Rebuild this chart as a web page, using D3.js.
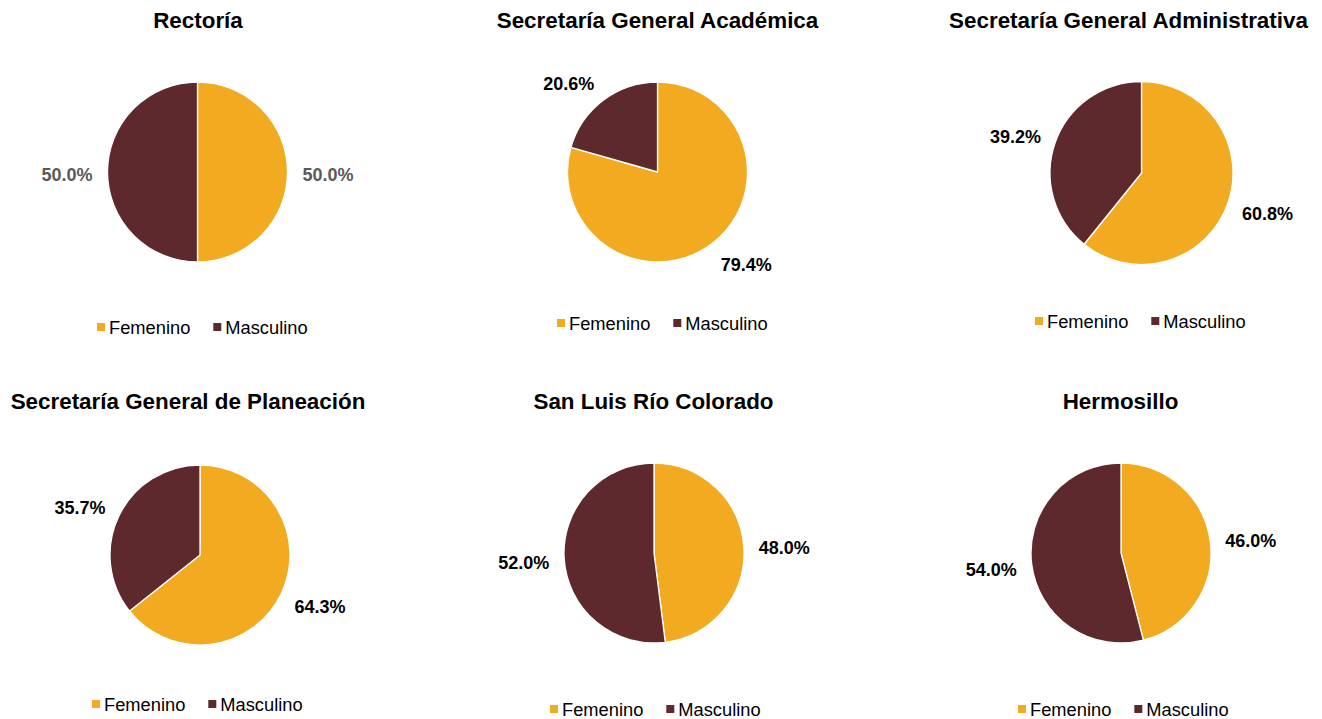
<!DOCTYPE html>
<html lang="es">
<head>
<meta charset="utf-8">
<title>Distribución por sexo</title>
<script src="https://cdn.jsdelivr.net/npm/d3@7"></script>
<style>
  html, body { margin: 0; padding: 0; background: #ffffff; }
  svg { display: block; font-family: "Liberation Sans", Arial, Helvetica, sans-serif; }
</style>
</head>
<body>
<svg id="chart" width="1322" height="719"></svg>
<script>
// Dependencias y porcentajes por sexo
const dependencias = [
  "Rectoría",
  "Secretaría General Académica",
  "Secretaría General Administrativa",
  "Secretaría General de Planeación",
  "San Luis Río Colorado",
  "Hermosillo"
];
const series = ["Femenino", "Masculino"];
const femenino  = [50.0, 79.4, 60.8, 64.3, 48.0, 46.0];
const masculino = [50.0, 20.6, 39.2, 35.7, 52.0, 54.0];

// Colocación de cada gráfico en la cuadrícula de 3 x 2
const paneles = [
  { cx: 197.5,  cy: 172, r: 90,   tx: 198,    ty: 20,  lx: 97,   ly: 327, labelColor: "#595959" },
  { cx: 657.5,  cy: 172, r: 90,   tx: 657.5,  ty: 20,  lx: 557,  ly: 323, labelColor: "#000000" },
  { cx: 1141.5, cy: 173, r: 91.5, tx: 1128.5, ty: 20,  lx: 1035, ly: 321, labelColor: "#000000" },
  { cx: 200,    cy: 555, r: 90,   tx: 188,    ty: 401, lx: 92,   ly: 704, labelColor: "#000000" },
  { cx: 654,    cy: 553, r: 90,   tx: 653.5,  ty: 401, lx: 550,  ly: 709, labelColor: "#000000" },
  { cx: 1121,   cy: 553, r: 90,   tx: 1120.5, ty: 401, lx: 1018, ly: 709, labelColor: "#000000" }
];

const titleSize = 22.4;
const labelSize = 18;
const legendSize = 18.3;
const labelGap = 15;

const color = d3.scaleOrdinal().domain(series).range(["#F2AB20", "#5E292C"]);
const pie = d3.pie().sort(null).value(d => d.value).startAngle(0).endAngle(2 * Math.PI);
const fmt = d3.format(".1f");
const clamp1 = v => Math.max(-1, Math.min(1, v));

const svg = d3.select("#chart");

dependencias.forEach((nombre, i) => {
  const p = paneles[i];
  const datos = [
    { key: series[0], value: femenino[i] },
    { key: series[1], value: masculino[i] }
  ];
  const arcos = pie(datos);
  const arc = d3.arc().innerRadius(0).outerRadius(p.r);
  const rayo = d3.arc().innerRadius(p.r + labelGap).outerRadius(p.r + labelGap);

  const g = svg.append("g");

  // Título
  g.append("text")
    .attr("x", p.tx)
    .attr("y", p.ty)
    .attr("text-anchor", "middle")
    .attr("dominant-baseline", "central")
    .attr("font-size", titleSize)
    .attr("font-weight", "bold")
    .attr("fill", "#000000")
    .text(nombre);

  // Sectores
  const pieG = g.append("g").attr("transform", `translate(${p.cx},${p.cy})`);
  pieG.selectAll("path")
    .data(arcos)
    .join("path")
    .attr("d", arc)
    .attr("fill", d => color(d.data.key))
    .attr("stroke", "#ffffff")
    .attr("stroke-width", 1.3)
    .attr("stroke-linejoin", "round");

  // Etiquetas de porcentaje, desplazadas hacia fuera del sector
  // según la dirección de su rayo medio
  pieG.selectAll("text")
    .data(arcos)
    .join("text")
    .attr("text-anchor", "middle")
    .attr("dominant-baseline", "central")
    .attr("font-size", labelSize)
    .attr("font-weight", "bold")
    .attr("fill", p.labelColor)
    .text(d => fmt(d.data.value) + "%")
    .attr("transform", function (d) {
      const [px, py] = rayo.centroid(d);
      const a = (d.startAngle + d.endAngle) / 2;
      const ux = Math.sin(a), uy = -Math.cos(a);
      const hw = this.getComputedTextLength() / 2;
      const hh = labelSize / 2;
      return `translate(${px + hw * clamp1(ux * 3)},${py + hh * uy + 2.5})`;
    });

  // Leyenda
  const leg = g.append("g").attr("transform", `translate(${p.lx},${p.ly})`);
  let x = 0;
  series.forEach(s => {
    leg.append("rect")
      .attr("x", x)
      .attr("y", -4)
      .attr("width", 8)
      .attr("height", 8)
      .attr("fill", color(s));
    const t = leg.append("text")
      .attr("x", x + 12)
      .attr("y", 0)
      .attr("dominant-baseline", "central")
      .attr("font-size", legendSize)
      .attr("fill", "#000000")
      .text(s);
    x += 12 + t.node().getComputedTextLength() + 23;
  });
});
</script>
</body>
</html>
